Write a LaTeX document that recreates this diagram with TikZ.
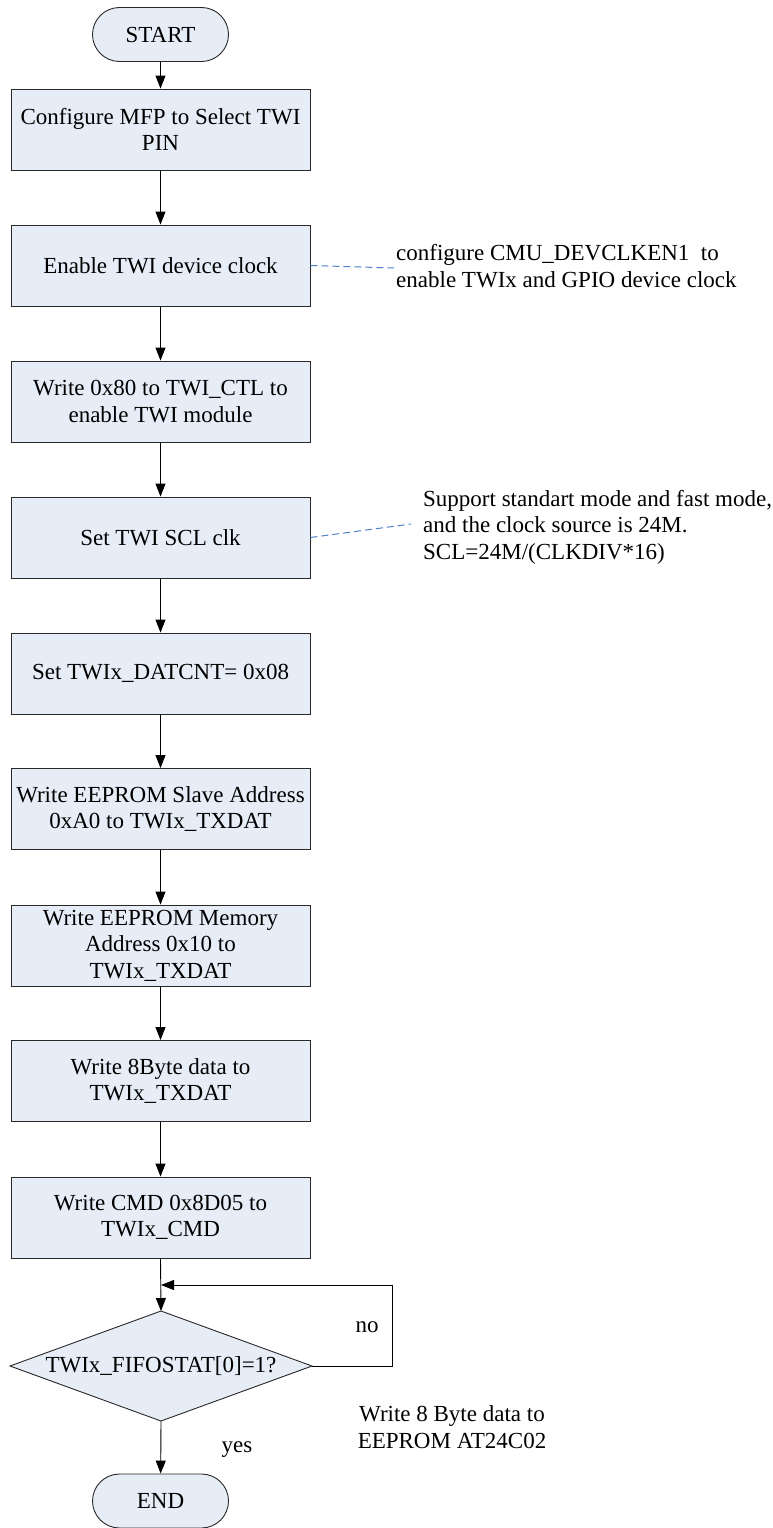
\documentclass[tikz,border=0pt]{standalone}
\usepackage{fontspec}
\setmainfont{Liberation Serif}
\usetikzlibrary{arrows.meta}
\definecolor{boxfill}{RGB}{231,237,247}
\definecolor{boxline}{RGB}{40,40,40}
\definecolor{linkblue}{RGB}{80,128,200}
\tikzset{
  box/.style={draw=boxline, fill=boxfill, line width=0.9pt, minimum width=299pt,
    minimum height=81pt, inner sep=0pt, align=center,
    font=\fontsize{23}{26.5}\selectfont},
  term/.style={draw=boxline, fill=boxfill, line width=0.9pt, minimum width=136pt,
    minimum height=54pt, rounded corners=27pt, inner sep=0pt,
    font=\fontsize{23}{26.5}\selectfont},
  annot/.style={inner sep=0pt, font=\fontsize{23}{26.5}\selectfont},
  conn/.style={draw=black, line width=0.9pt, -{Triangle[length=13pt,width=10pt]}},
  plainline/.style={draw=black, line width=0.9pt},
  dashlink/.style={draw=linkblue, line width=1pt, dash pattern=on 7pt off 4pt}
}
\begin{document}
\begin{tikzpicture}[x=1pt,y=-1pt]
\useasboundingbox (0,0) rectangle (772,1528);

% main flow
\node[term] (start) at (160.5,34.5) {START};
\node[box] (b1) at (160.5,129.5) {Configure MFP to Select TWI\\PIN};
\node[box] (b2) at (160.5,265.5) {Enable TWI device clock};
\node[box] (b3) at (160.5,401.5) {Write 0x80 to TWI\_CTL to\\enable TWI module};
\node[box] (b4) at (160.5,537.5) {Set TWI SCL clk};
\node[box] (b5) at (160.5,673.5) {Set TWIx\_DATCNT= 0x08};
\node[box] (b6) at (160.5,809) {Write EEPROM Slave Address\\0xA0 to TWIx\_TXDAT};
\node[box] (b7) at (160.5,945.5) {Write EEPROM Memory\\Address 0x10 to\\TWIx\_TXDAT};
\node[box] (b8) at (160.5,1081) {Write 8Byte data to\\TWIx\_TXDAT};
\node[box] (b9) at (160.5,1217.5) {Write CMD 0x8D05 to\\TWIx\_CMD};

% decision
\coordinate (dtop) at (161,1311);
\coordinate (dright) at (312,1366);
\coordinate (dbot) at (161,1421);
\coordinate (dleft) at (10,1366);
\draw[draw=boxline, fill=boxfill, line width=0.9pt] (dtop) -- (dright) -- (dbot) -- (dleft) -- cycle;
\node[annot] (chk) at (161,1366) {TWIx\_FIFOSTAT[0]=1?};

\node[term] (stop) at (160.5,1501) {END};

% connectors
\draw[conn] (start) -- (b1);
\draw[conn] (b1) -- (b2);
\draw[conn] (b2) -- (b3);
\draw[conn] (b3) -- (b4);
\draw[conn] (b4) -- (b5);
\draw[conn] (b5) -- (b6);
\draw[conn] (b6) -- (b7);
\draw[conn] (b7) -- (b8);
\draw[conn] (b8) -- (b9);
\draw[conn] (b9.south) -- (dtop);
\draw[conn] (dbot) -- (stop);

% retry loop
\coordinate (loopr) at (392,1366);
\coordinate (loopt) at (392,1285);
\coordinate (merge) at (161,1285);
\draw[plainline] (dright) -- (loopr) -- (loopt);
\draw[conn] (loopt) -- (merge);

\node[annot] (no) at (367,1327) {no};
\node[annot] (yes) at (237,1450) {yes};

% notes
\node[annot, anchor=west, align=left] (n1) at (396,266)
  {configure CMU\_DEVCLKEN1\ \ to\\enable TWIx and GPIO device clock};
\coordinate (n1tip) at (394,268);
\draw[dashlink] (b2.east) -- (n1tip);

\node[annot, anchor=west, align=left] (n2) at (423,527)
  {Support standart mode and fast mode,\\and the clock source is 24M.\\SCL=24M/(CLKDIV*16)};
\coordinate (n2tip) at (411,524);
\draw[dashlink] (b4.east) -- (n2tip);

\node[annot, align=center] (n3) at (452,1427)
  {Write 8 Byte data to\\EEPROM AT24C02};
\end{tikzpicture}
\end{document}
